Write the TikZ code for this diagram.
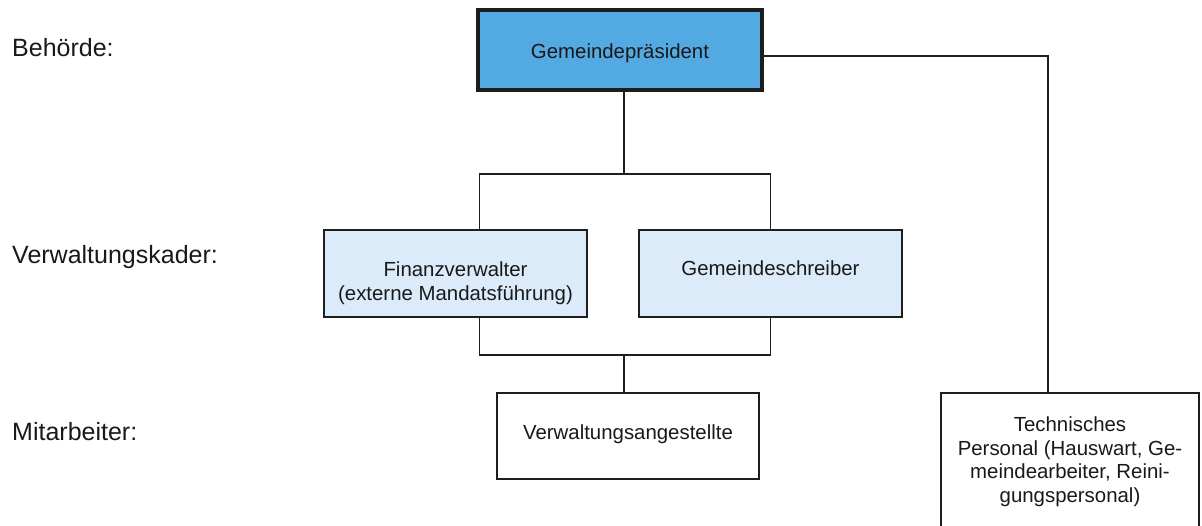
\documentclass[tikz,border=0pt]{standalone}
\usepackage{fontspec}
\setmainfont{Liberation Sans}
\definecolor{topblue}{RGB}{83,169,226}
\definecolor{lightblue}{RGB}{220,235,250}
\definecolor{edge}{RGB}{30,30,30}
\tikzset{
  conn/.style={draw=edge, line width=1.8pt},
  box/.style={draw=edge, line width=1.8pt, rectangle, inner sep=0pt, outer sep=0pt, anchor=north west},
  topbox/.style={box, fill=topblue, line width=3.2pt},
  kbox/.style={box, fill=lightblue},
  wbox/.style={box, fill=white},
  btext/.style={font=\fontsize{20.4}{23.7}\selectfont, inner sep=0pt, align=center, text=black!90},
  lvl/.style={font=\fontsize{25}{30}\selectfont, inner sep=0pt, anchor=base west, text=black!90}
}
\begin{document}
\begin{tikzpicture}[x=1pt,y=-1pt]
\useasboundingbox (0,0) rectangle (1202,526);
\clip (0,0) rectangle (1202,526);
% level labels
\node[lvl] (l1) at (12,57) {Behörde:};
\node[lvl] (l2) at (12,264) {Verwaltungskader:};
\node[lvl] (l3) at (12,440) {Mitarbeiter:};
% boxes
\node[topbox, minimum width=284pt, minimum height=80pt] (gp) at (478,10) {};
\node[kbox, minimum width=263pt, minimum height=87pt] (fv) at (324,230) {};
\node[kbox, minimum width=263pt, minimum height=87pt] (gs) at (639,230) {};
\node[wbox, minimum width=262pt, minimum height=86pt] (va) at (497,393) {};
\node[wbox, minimum width=258pt, minimum height=150pt] (tp) at (941,393) {};
% texts
\node[btext, anchor=base] (gpt) at (620,59) {Gemeindepräsident};
\node[btext, anchor=north] (fvt) at (455.5,261.4) {Finanzverwalter\\(externe Mandatsführung)};
\node[btext, anchor=base] (gst) at (770.5,276) {Gemeindeschreiber};
\node[btext, anchor=base] (vat) at (628,439) {Verwaltungsangestellte};
\node[btext, anchor=north] (tpt) at (1070,416.4) {Technisches\\Personal (Hauswart, Ge-\\meindearbeiter, Reini-\\gungspersonal)};
% connectors
\coordinate (j1) at (624,174);
\coordinate (j2) at (624,355);
\coordinate (j3) at (1048,56);
\coordinate (cl) at (479.5,0);
\draw[conn] (gp.south -| j1) -- (j1);
\draw[conn] (fv.north -| cl) |- (j1) -| (gs.north);
\draw[conn] (fv.south -| cl) |- (j2) -| (gs.south);
\draw[conn] (j2) -- (va.north -| j2);
\draw[conn] (gp.east |- j3) -- (j3) -- (j3 |- tp.north);
\end{tikzpicture}
\end{document}
